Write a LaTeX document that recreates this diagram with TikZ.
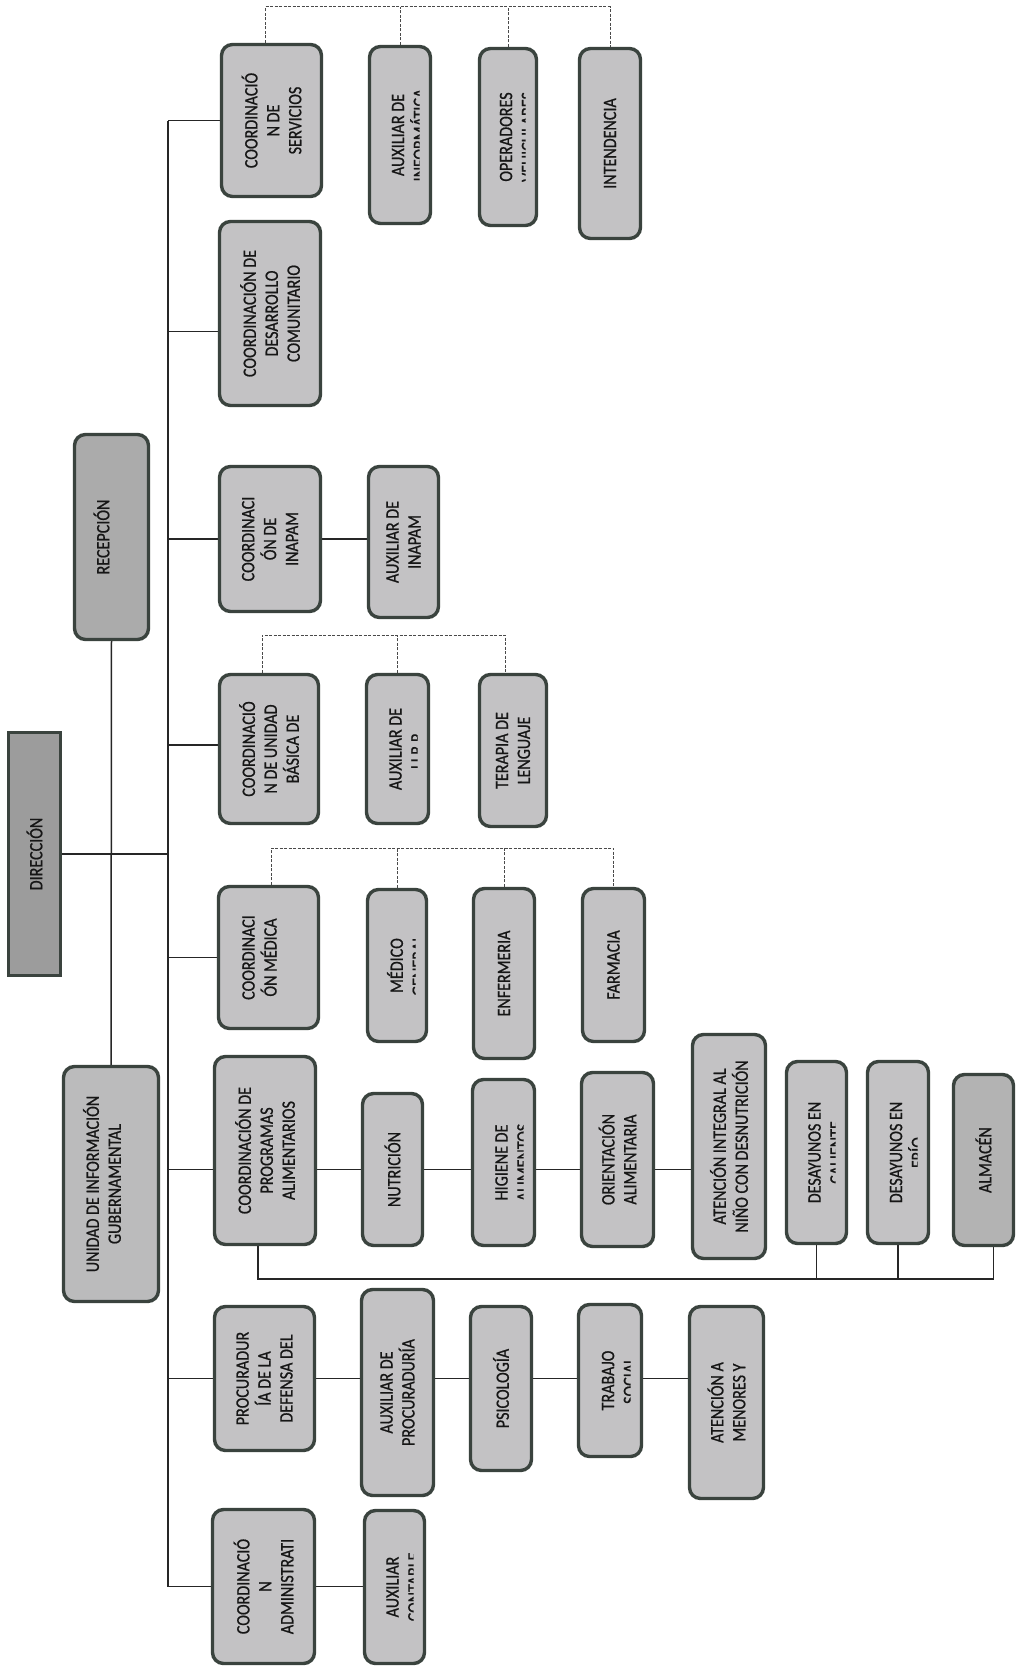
\documentclass[tikz,border=0pt]{standalone}
\usepackage{fontspec}
\newfontfamily\boxfont{Carlito}[FakeStretch=0.85,FakeBold=0.8]
\usetikzlibrary{calc,backgrounds}
\definecolor{bordc}{HTML}{3A433E}
\definecolor{boxc}{HTML}{C3C2C4}
\definecolor{boxm}{HTML}{BBBBBC}
\definecolor{boxd}{HTML}{ABABAB}
\definecolor{boxa}{HTML}{B3B3B3}
\definecolor{boxdd}{HTML}{9C9C9C}
\definecolor{txtc}{HTML}{161616}
\definecolor{linec}{HTML}{262626}
\definecolor{grpc}{HTML}{4A4A4A}
\newcommand\btxt[3][0]{\node[lbl] at ([xshift=#1bp]#2.center) {#3};}
\newcommand\ctxt[2]{\begin{scope}\clip ([xshift=1.5bp]#1.north west) rectangle ([xshift=-12.5bp]#1.south east);\node[lbl] at ([xshift=9bp]#1.center) {#2};\end{scope}}
\begin{document}
\begin{tikzpicture}[x=1bp,y=-1bp,
  box/.style={draw=bordc, line width=3.4bp, fill=boxc, rounded corners=11bp, inner sep=0pt},
  lbl/.style={rotate=90, align=center, font=\boxfont\fontsize{19}{22}\selectfont, text=txtc, inner sep=0pt},
  conn/.style={line width=1.5bp, draw=linec},
  grp/.style={line width=1bp, draw=grpc, dash pattern=on 3bp off 1.5bp}]
\useasboundingbox (0,0) rectangle (1016,1670);
% ---------- boxes ----------
\node[box, fill=boxdd, rounded corners=0pt, minimum width=52bp, minimum height=243bp] (dir) at (34.5,854) {};
\node[box, fill=boxd, minimum width=74bp, minimum height=205bp] (rec) at (111.5,537) {};
\node[box, fill=boxm, minimum width=95bp, minimum height=235bp] (uig) at (111,1184) {};
% servicios
\node[box, minimum width=100bp, minimum height=152bp] (svc) at (271.5,120.5) {};
\node[box, minimum width=61bp, minimum height=177bp] (auxinf) at (400,135) {};
\node[box, minimum width=57bp, minimum height=177bp] (oper) at (508,137) {};
\node[box, minimum width=61bp, minimum height=190bp] (intd) at (610,143.5) {};
% desarrollo
\node[box, minimum width=101bp, minimum height=184bp] (dc) at (270,313.5) {};
% inapam
\node[box, minimum width=101bp, minimum height=145bp] (inapam) at (270,539) {};
\node[box, minimum width=70bp, minimum height=151bp] (auxin) at (403.5,542) {};
% ubr
\node[box, minimum width=99bp, minimum height=149bp] (cubr) at (269,749) {};
\node[box, minimum width=62bp, minimum height=149bp] (auxubr) at (397.5,749) {};
\node[box, minimum width=67bp, minimum height=152bp] (ter) at (513,750.5) {};
% medica
\node[box, minimum width=100bp, minimum height=142bp] (med) at (268.5,957.5) {};
\node[box, minimum width=59bp, minimum height=152bp] (medico) at (397,965.5) {};
\node[box, minimum width=61bp, minimum height=170bp] (enf) at (504,973.5) {};
\node[box, minimum width=62bp, minimum height=153bp] (farm) at (613.5,965) {};
% programas alimentarios
\node[box, minimum width=101bp, minimum height=188bp] (cpa) at (265,1150.5) {};
\node[box, minimum width=60bp, minimum height=152bp] (nut) at (392.5,1169.5) {};
\node[box, minimum width=62bp, minimum height=166bp] (hig) at (503.5,1162.5) {};
\node[box, minimum width=72bp, minimum height=174bp] (ori) at (617.5,1159.5) {};
\node[box, minimum width=73bp, minimum height=224bp] (ain) at (729,1146.5) {};
\node[box, minimum width=60bp, minimum height=182bp] (dca) at (816.5,1152.5) {};
\node[box, minimum width=61bp, minimum height=182bp] (dfr) at (898,1152.5) {};
\node[box, fill=boxa, minimum width=60bp, minimum height=171bp] (alm) at (983.5,1160) {};
% procuraduria
\node[box, minimum width=100bp, minimum height=144bp] (proc) at (264.5,1378.5) {};
\node[box, minimum width=72bp, minimum height=206bp] (auxp) at (397.5,1392.5) {};
\node[box, minimum width=61bp, minimum height=164bp] (psi) at (501,1388.5) {};
\node[box, minimum width=63bp, minimum height=152bp] (tra) at (610,1380.5) {};
\node[box, minimum width=74bp, minimum height=192bp] (men) at (726.5,1402.5) {};
% administrativa
\node[box, minimum width=102bp, minimum height=154bp] (adm) at (263.5,1586.5) {};
\node[box, minimum width=60bp, minimum height=153bp] (auxc) at (394.5,1587) {};
% ---------- texts ----------
\btxt{dir}{DIRECCIÓN}
\btxt[-10]{rec}{RECEPCIÓN}
\btxt[-9]{uig}{UNIDAD DE INFORMACIÓN\\GUBERNAMENTAL}
\btxt{svc}{COORDINACIÓ\\N DE\\SERVICIOS}
\ctxt{auxinf}{AUXILIAR DE\\INFORMÁTICA}
\ctxt{oper}{OPERADORES\\VEHICULARES}
\btxt{intd}{INTENDENCIA}
\btxt{dc}{COORDINACIÓN DE\\DESARROLLO\\COMUNITARIO}
\btxt{inapam}{COORDINACI\\ÓN DE\\INAPAM}
\btxt{auxin}{AUXILIAR DE\\INAPAM}
\btxt{cubr}{COORDINACIÓ\\N DE UNIDAD\\BÁSICA DE}
\ctxt{auxubr}{AUXILIAR DE\\U.B.R.}
\btxt{ter}{TERAPIA DE\\LENGUAJE}
\btxt[-9]{med}{COORDINACI\\ÓN MÉDICA}
\ctxt{medico}{MÉDICO\\GENERAL}
\btxt{enf}{ENFERMERIA}
\btxt{farm}{FARMACIA}
\btxt{cpa}{COORDINACIÓN DE\\PROGRAMAS\\ALIMENTARIOS}
\btxt{nut}{NUTRICIÓN}
\ctxt{hig}{HIGIENE DE\\ALIMENTOS}
\btxt{ori}{ORIENTACIÓN\\ALIMENTARIA}
\btxt{ain}{ATENCIÓN INTEGRAL AL\\NIÑO CON DESNUTRICIÓN}
\ctxt{dca}{DESAYUNOS EN\\CALIENTE}
\ctxt{dfr}{DESAYUNOS EN\\FRÍO}
\btxt{alm}{ALMACÉN}
\btxt{proc}{PROCURADUR\\ÍA DE LA\\DEFENSA DEL}
\btxt{auxp}{AUXILIAR DE\\PROCURADURÍA}
\btxt{psi}{PSICOLOGÍA}
\ctxt{tra}{TRABAJO\\SOCIAL}
\btxt{men}{ATENCIÓN A\\MENORES Y}
\btxt{adm}{COORDINACIÓ\\N\\ADMINISTRATI}
\ctxt{auxc}{AUXILIAR\\CONTABLE}
% ---------- connectors ----------
\begin{pgfonlayer}{background}
\fill[white] (0,0) rectangle (1016,1670);
\coordinate (busx) at (168,0);
\coordinate (t1) at (0,7);
\coordinate (t2) at (0,635);
\coordinate (t3) at (0,848);
\coordinate (cpab) at (0,1279);
\coordinate (dcw) at ([yshift=-18bp]dc.west);
\coordinate (cubrw) at ([yshift=4bp]cubr.west);
\coordinate (cpaw) at ([yshift=-19bp]cpa.west);
\coordinate (cpae) at ([yshift=-19bp]cpa.east);
\coordinate (cpas) at ([xshift=-7bp]cpa.south);
\coordinate (alms) at ([xshift=10bp]alm.south);
\coordinate (svcn) at ([xshift=-6bp]svc.north);
\coordinate (cubrn) at ([xshift=-7bp]cubr.north);
\coordinate (tern) at ([xshift=-8bp]ter.north);
\coordinate (medn) at ([xshift=3bp]med.north);
% main bus
\draw[conn] (busx |- svc.west) -- (busx |- adm.west);
\draw[conn] (dir.east) -- (busx |- dir.east);
\draw[conn] (rec.south) -- (uig.north);
\draw[conn] (svc.west) -- (busx |- svc.west);
\draw[conn] (dcw) -- (busx |- dcw);
\draw[conn] (inapam.west) -- (busx |- inapam.west);
\draw[conn] (cubrw) -- (busx |- cubrw);
\draw[conn] (med.west) -- (busx |- med.west);
\draw[conn] (cpaw) -- (busx |- cpaw);
\draw[conn] (proc.west) -- (busx |- proc.west);
\draw[conn] (adm.west) -- (busx |- adm.west);
% chains
\draw[conn] (inapam.east) -- (auxin.west |- inapam.east);
\draw[conn] (cpae) -- (ain.west |- cpae);
\draw[conn] (proc.east) -- (men.west |- proc.east);
\draw[conn] (adm.east) -- (auxc.west |- adm.east);
% programas alimentarios bracket
\draw[conn] (cpas) -- (cpas |- cpab) -- (alms |- cpab) -- (alms);
\draw[conn] (dca.south) -- (dca.south |- cpab);
\draw[conn] (dfr.south) -- (dfr.south |- cpab);
% dashed groups
\draw[grp] (svcn) -- (svcn |- t1) -- (intd.north |- t1) -- (intd.north);
\draw[grp] (auxinf.north) -- (auxinf.north |- t1);
\draw[grp] (oper.north) -- (oper.north |- t1);
\draw[grp] (cubrn) -- (cubrn |- t2) -- (tern |- t2) -- (tern);
\draw[grp] (auxubr.north) -- (auxubr.north |- t2);
\draw[grp] (medn) -- (medn |- t3) -- (farm.north |- t3) -- (farm.north);
\draw[grp] (medico.north) -- (medico.north |- t3);
\draw[grp] (enf.north) -- (enf.north |- t3);
\end{pgfonlayer}
\end{tikzpicture}
\end{document}
